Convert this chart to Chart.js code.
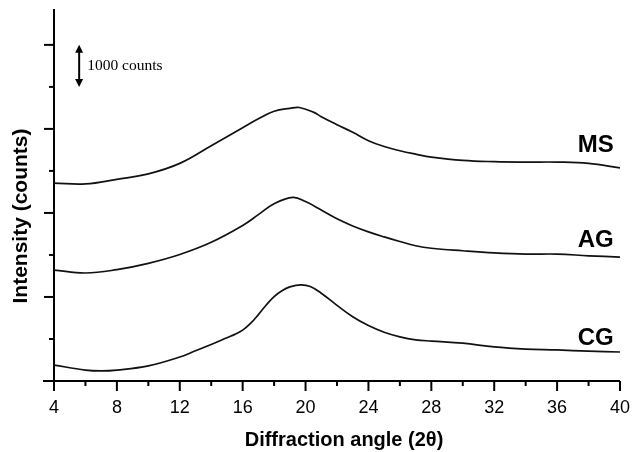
<!DOCTYPE html>
<html>
<head>
<meta charset="utf-8">
<script src="https://cdn.jsdelivr.net/npm/chart.js@4/dist/chart.umd.min.js"></script>
<style>
    html, body { margin: 0; padding: 0; background: #fff; }
    #wrap { width: 632px; height: 452px; }
</style>
</head>
<body>
<div id="wrap"><canvas id="xrdChart" width="632" height="452"></canvas></div>
<script>
// Values (2theta, counts)
const msAngles = [4, 6, 8, 10, 12, 14, 16, 17, 18, 19, 19.6, 20.5, 21, 22, 23, 24, 25, 26, 27, 28, 30, 32, 34, 36, 38, 40];
const msCounts = [4710, 4690, 4800, 4930, 5180, 5600, 6030, 6240, 6420, 6490, 6510, 6400, 6290, 6100, 5920, 5720, 5580, 5480, 5400, 5330, 5250, 5220, 5210, 5210, 5180, 5070];

const agAngles = [4, 6, 8, 10, 12, 14, 16, 17, 18, 19.2, 20, 21, 22, 23, 24, 25, 26, 27, 28, 30, 32, 34, 36, 38, 40];
const agCounts = [2640, 2570, 2650, 2800, 3010, 3300, 3700, 3960, 4220, 4370, 4270, 4070, 3860, 3690, 3550, 3430, 3320, 3220, 3160, 3100, 3050, 3020, 3020, 2980, 2950];

const cgAngles = [4, 6, 7, 8, 10, 12, 13, 14, 15, 15.5, 16, 16.5, 17, 17.5, 18, 18.5, 19, 19.7, 20.3, 21, 22, 23, 24, 25, 26, 27, 28, 30, 32, 34, 36, 38, 40];
const cgCounts = [380, 260, 240, 260, 360, 570, 720, 870, 1030, 1110, 1210, 1370, 1580, 1810, 2010, 2150, 2240, 2290, 2250, 2090, 1800, 1530, 1320, 1160, 1050, 980, 950, 900, 810, 760, 740, 710, 690];

const sampleNames = ['MS', 'AG', 'CG'];
const labelCounts = [5450, 3200, 850];   // baseline of the sample labels
const xTicks = [4, 8, 12, 16, 20, 24, 28, 32, 36, 40];

function toPoints(xs, ys) {
    return xs.map((x, i) => ({ x: x, y: ys[i] }));
}

// Axis ticks (major/minor), titles, sample labels and the scale arrow
const decorations = {
    id: 'decorations',
    afterDraw(chart) {
        const ctx = chart.ctx;
        const xs = chart.scales.x;
        const ys = chart.scales.y;
        const area = chart.chartArea;
        ctx.save();
        ctx.strokeStyle = '#000';
        ctx.fillStyle = '#000';
        ctx.lineWidth = 2;

        // x-axis extends a little left of the y axis
        ctx.beginPath();
        ctx.moveTo(area.left - 11, area.bottom);
        ctx.lineTo(area.left, area.bottom);
        ctx.stroke();

        // x ticks
        for (let v = 4; v <= 40; v += 2) {
            const px = xs.getPixelForValue(v);
            const len = (v % 4 === 0) ? 10 : 5;
            ctx.beginPath();
            ctx.moveTo(px, area.bottom);
            ctx.lineTo(px, area.bottom + len);
            ctx.stroke();
        }
        // y ticks
        for (let v = 1000; v <= 8000; v += 1000) {
            const py = ys.getPixelForValue(v);
            const len = (v % 2000 === 0) ? 10 : 5;
            ctx.beginPath();
            ctx.moveTo(area.left, py);
            ctx.lineTo(area.left - len, py);
            ctx.stroke();
        }

        // axis titles
        ctx.textAlign = 'center';
        ctx.textBaseline = 'middle';
        ctx.font = 'bold 20px "Liberation Sans", Arial, sans-serif';
        ctx.fillText('Diffraction angle (2θ)', 344, 440);
        ctx.save();
        ctx.translate(21, 216);
        ctx.rotate(-Math.PI / 2);
        ctx.font = 'bold 21px "Liberation Sans", Arial, sans-serif';
        ctx.fillText('Intensity (counts)', 0, 0);
        ctx.restore();

        // sample labels
        ctx.font = 'bold 24px "Liberation Sans", Arial, sans-serif';
        ctx.textAlign = 'right';
        ctx.textBaseline = 'alphabetic';
        sampleNames.forEach((name, i) => {
            ctx.fillText(name, xs.getPixelForValue(39.6), ys.getPixelForValue(labelCounts[i]));
        });

        // 1000 counts arrow
        const ax = xs.getPixelForValue(5.6);
        const aTop = ys.getPixelForValue(8000);
        const aBot = ys.getPixelForValue(7000);
        ctx.lineWidth = 2;
        ctx.beginPath();
        ctx.moveTo(ax, aTop + 5);
        ctx.lineTo(ax, aBot - 5);
        ctx.stroke();
        ctx.beginPath();
        ctx.moveTo(ax, aTop);
        ctx.lineTo(ax - 4, aTop + 8);
        ctx.lineTo(ax + 4, aTop + 8);
        ctx.closePath();
        ctx.fill();
        ctx.beginPath();
        ctx.moveTo(ax, aBot);
        ctx.lineTo(ax - 4, aBot - 8);
        ctx.lineTo(ax + 4, aBot - 8);
        ctx.closePath();
        ctx.fill();
        ctx.font = '15.5px "Liberation Serif", "Times New Roman", serif';
        ctx.textAlign = 'left';
        ctx.textBaseline = 'middle';
        ctx.fillText('1000 counts', ax + 8, (aTop + aBot) / 2);

        ctx.restore();
    }
};

function makeDataset(label, xs, ys) {
    return {
        label: label,
        data: toPoints(xs, ys),
        borderColor: '#111',
        borderWidth: 1.7,
        pointRadius: 0,
        tension: 0.4,
        fill: false
    };
}

const ctx = document.getElementById('xrdChart').getContext('2d');
new Chart(ctx, {
    type: 'line',
    data: {
        datasets: [
            makeDataset('MS', msAngles, msCounts),
            makeDataset('AG', agAngles, agCounts),
            makeDataset('CG', cgAngles, cgCounts)
        ]
    },
    options: {
        responsive: false,
        animation: false,
        layout: {
            padding: { left: 0, right: 0, top: 10, bottom: 0 }
        },
        plugins: {
            legend: { display: false },
            tooltip: { enabled: false }
        },
        scales: {
            x: {
                type: 'linear',
                min: 4,
                max: 40,
                afterBuildTicks: function(scale) {
                    scale.ticks = xTicks.map(v => ({ value: v }));
                },
                afterFit: function(scale) {
                    scale.height = 71;
                },
                // invisible built-in ticks only push the labels down
                grid: { display: true, drawOnChartArea: false, drawTicks: true, tickLength: 14, tickColor: 'rgba(0,0,0,0)', color: 'rgba(0,0,0,0)' },
                border: { display: true, color: '#000', width: 2 },
                ticks: {
                    color: '#000',
                    padding: 2,
                    maxRotation: 0,
                    font: { family: '"Liberation Sans", Arial, sans-serif', size: 18 }
                }
            },
            y: {
                type: 'linear',
                min: 0,
                max: 8830,
                afterFit: function(scale) {
                    scale.width = 54;
                },
                grid: { display: false, drawTicks: false },
                border: { display: true, color: '#000', width: 2 },
                ticks: { display: false }
            }
        }
    },
    plugins: [decorations]
});
</script>
</body>
</html>
